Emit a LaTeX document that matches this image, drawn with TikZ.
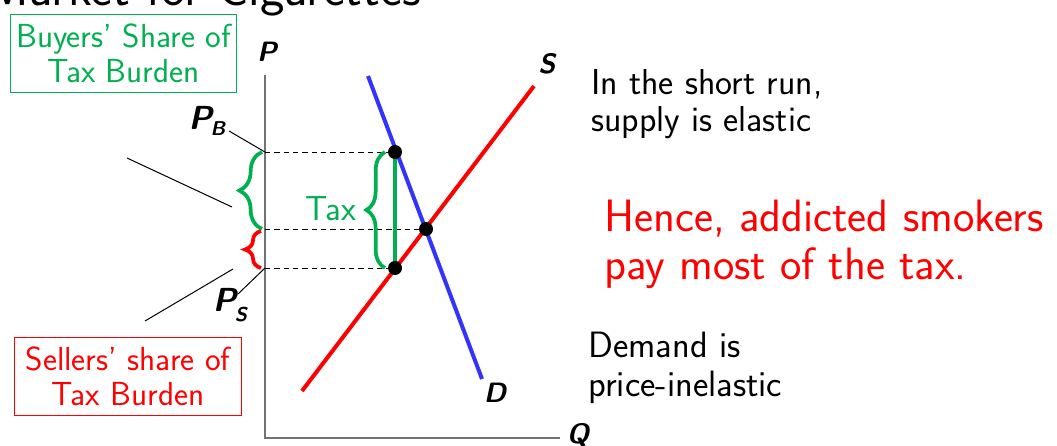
\documentclass[tikz,border=0pt]{standalone}
\usepackage{fontspec}
\setsansfont{Latin Modern Sans}
\renewcommand{\familydefault}{\sfdefault}
\usetikzlibrary{decorations.pathreplacing}
\definecolor{tgreen}{RGB}{0,176,80}
\definecolor{tblue}{RGB}{51,51,255}
\definecolor{tred}{RGB}{255,0,0}
\tikzset{
  curve/.style={line width=3pt},
  dot/.style={circle,fill=black,inner sep=0pt,minimum size=10.5pt},
  axisline/.style={draw=black!55,line width=1.1pt},
  guide/.style={dash pattern=on 4pt off 3pt,line width=0.75pt},
  leader/.style={line width=0.75pt},
  lbl/.style={font=\fontsize{21}{25}\selectfont\bfseries\itshape,inner sep=0pt},
  plbl/.style={font=\fontsize{25}{29}\selectfont\bfseries\itshape,inner sep=0pt},
  note/.style={font=\fontsize{27}{28}\selectfont,align=left,inner sep=0pt,anchor=north west},
  bigbrace/.style={decorate,decoration={brace,amplitude=#1},line width=2.8pt},
  sharebox/.style={draw,line width=0.75pt,align=center,minimum width=170pt,minimum height=58pt,inner sep=0pt,font=\fontsize{25}{26}\selectfont},
}
\begin{document}
\begin{tikzpicture}[x=0.75pt,y=-0.75pt]
\useasboundingbox (0,0) rectangle (1057,446);
\clip (0,0) rectangle (1057,446);

% title (cut off at the top)
\node[font=\fontsize{39}{46}\selectfont,anchor=base east,inner sep=0pt] (title) at (421,5) {Market for Cigarettes};

% axes
\coordinate (Ptop) at (265,75);
\coordinate (O) at (265,438);
\coordinate (Qend) at (560,438);
\draw[axisline] (Ptop) -- (O) -- (Qend);
\node[lbl] (Plab) at (267,52) {P};
\node[lbl] (Qlab) at (578,435) {Q};

% price levels on the axis
\coordinate (yB) at (265,152);
\coordinate (yE) at (265,229);
\coordinate (yS) at (265,268);

% points
\coordinate (Bp) at (395,152);
\coordinate (Ep) at (426,229);
\coordinate (Sp) at (395,268);

% dashed guides
\draw[guide] (yB) -- (Bp);
\draw[guide] (yE) -- (Ep);
\draw[guide] (yS) -- (Sp);

% supply and demand
\coordinate (S0) at (302,391);
\coordinate (S1) at (534,86);
\draw[curve,tred] (S0) -- (S1);
\node[lbl] (Slab) at (547,64) {S};
\coordinate (D0) at (368,76);
\coordinate (D1) at (482,379);
\draw[curve,tblue] (D0) -- (D1);
\node[lbl] (Dlab) at (495,393) {D};

% tax wedge
\draw[tgreen,line width=3pt] (Bp) -- (Sp);
\draw[bigbrace=14pt,tgreen] (385,268) -- (385,152);
\node[text=tgreen,font=\fontsize{26}{30}\selectfont,inner sep=0pt] (taxlab) at (331,209) {Tax};

% dots
\node[dot] (B) at (Bp) {};
\node[dot] (E) at (Ep) {};
\node[dot] (Sd) at (Sp) {};

% braces on the price axis
\draw[bigbrace=17pt,tgreen] (262,229) -- (262,152);
\draw[bigbrace=12pt,tred] (261,268) -- (261,231);

% price labels
\node[plbl] (PB) at (207,121) {P\kern-1pt\raisebox{-5pt}{\fontsize{15}{15}\selectfont B}};
\node[plbl] (PS) at (230,305) {P\kern-1pt\raisebox{-7pt}{\fontsize{15}{15}\selectfont S}};
\coordinate (PBl) at (229,131);
\coordinate (PSl) at (238,294);
\draw[leader] (PBl) -- (yB);
\draw[leader] (PSl) -- (yS);

% leader lines
\coordinate (L1a) at (127,158);
\coordinate (L1b) at (232,207);
\coordinate (L2a) at (145,321);
\coordinate (L2b) at (233,269);
\draw[leader] (L1a) -- (L1b);
\draw[leader] (L2a) -- (L2b);

% boxes
\node[sharebox,draw=tgreen,text=tgreen] (buy) at (123.5,53.5) {Buyers' Share of\\Tax Burden};
\node[sharebox,draw=tred,text=tred] (sell) at (128,376.5) {Sellers' share of\\Tax Burden};

% notes
\node[note] (shortrun) at (591,69) {In the short run,\\supply is elastic};
\node[note,text=tred,font=\fontsize{34}{36}\selectfont] (hence) at (604,200) {Hence, addicted smokers\\pay most of the tax.};
\node[note,font=\fontsize{27.5}{29}\selectfont] (demand) at (588,332) {Demand is\\price-inelastic};
\end{tikzpicture}
\end{document}
